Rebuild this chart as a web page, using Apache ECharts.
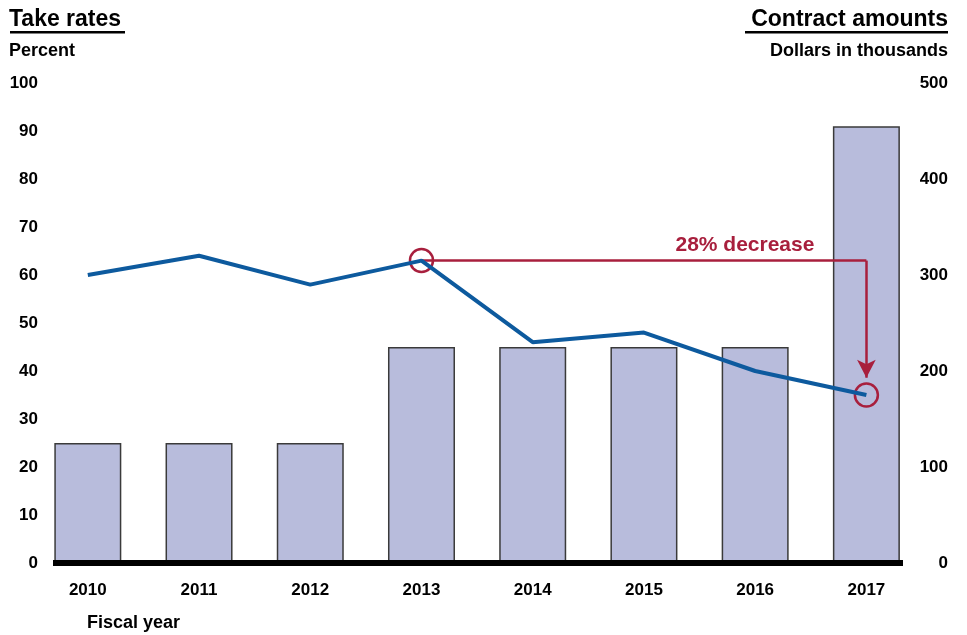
<!DOCTYPE html>
<html>
<head>
<meta charset="utf-8">
<script src="https://cdn.jsdelivr.net/npm/echarts@6/dist/echarts.min.js"></script>
<style>
html,body{margin:0;padding:0;background:#fff;}
#chart{width:967px;height:635px;}
</style>
</head>
<body>
<div id="chart"></div>
<script>
const years = ['2010','2011','2012','2013','2014','2015','2016','2017'];
const contractAmounts = [125, 125, 125, 225, 225, 225, 225, 455];
const takeRates = [60, 64, 58, 63, 46, 48, 40, 35];
const leftTicks = [0,10,20,30,40,50,60,70,80,90,100];
const rightTicks = [0,100,200,300,400,500];
const annoStartYear = '2013';
const annoEndYear = '2017';
const annoLabel = '28% decrease';

const RED = '#a81f3d';
const BLUE = '#0d5a9e';
const FONT = '"Liberation Sans", Arial, sans-serif';

const startVal = takeRates[years.indexOf(annoStartYear)];
const endVal = takeRates[years.indexOf(annoEndYear)];
const arrowGap = 3.6;

const chart = echarts.init(document.getElementById('chart'), null, {renderer:'canvas'});
const titleStyle = (size) => ({fontFamily: FONT, fontSize: size, fontWeight: 'bold', color: '#000'});
const option = {
  backgroundColor: '#fff',
  animation: false,
  textStyle: {fontFamily: FONT},
  title: [
    {text: 'Take rates', left: 9, top: 8, padding: 0, textStyle: titleStyle(23)},
    {text: 'Percent', left: 9, top: 42, padding: 0, textStyle: titleStyle(18)},
    {text: 'Contract amounts', right: 19, top: 8, padding: 0, textStyle: titleStyle(23)},
    {text: 'Dollars in thousands', right: 19, top: 42, padding: 0, textStyle: titleStyle(18)},
    {text: 'Fiscal year', left: 87, top: 614, padding: 0, textStyle: titleStyle(18)}
  ],
  graphic: [
    {type: 'rect', left: 10, top: 31, shape: {width: 115, height: 2.5}, style: {fill: '#000'}},
    {type: 'rect', right: 19, top: 31, shape: {width: 203, height: 2.5}, style: {fill: '#000'}}
  ],
  grid: [
    {left: 32.2, right: 45, top: 83, bottom: 72},
    {left: 53, right: 64, top: 83, bottom: 72}
  ],
  xAxis: [
    {type: 'category', gridIndex: 0, data: years, boundaryGap: true,
     axisLine: {show: false}, axisTick: {show: false},
     axisLabel: {fontFamily: FONT, fontSize: 17, fontWeight: 'bold', color: '#000', margin: 19}},
    {type: 'category', gridIndex: 1, data: years,
     axisLine: {show: true, lineStyle: {color: '#000', width: 6, cap: 'butt'}}, axisTick: {show: false},
     axisLabel: {show: false}, z: 10}
  ],
  yAxis: [
    {type: 'value', gridIndex: 0, min: 0, max: 100, interval: 10, show: false, splitLine: {show: false}},
    {type: 'value', gridIndex: 0, position: 'right', min: 0, max: 500, interval: 100, show: false, splitLine: {show: false}},
    {type: 'value', gridIndex: 1, min: leftTicks[0], max: leftTicks[leftTicks.length-1], interval: leftTicks[1]-leftTicks[0],
     axisLine: {show: false}, axisTick: {show: false}, splitLine: {show: false},
     axisLabel: {fontFamily: FONT, fontSize: 17, fontWeight: 'bold', color: '#000', margin: 15}},
    {type: 'value', gridIndex: 1, position: 'right', min: rightTicks[0], max: rightTicks[rightTicks.length-1], interval: rightTicks[1]-rightTicks[0],
     axisLine: {show: false}, axisTick: {show: false}, splitLine: {show: false},
     axisLabel: {fontFamily: FONT, fontSize: 17, fontWeight: 'bold', color: '#000', margin: 45, align: 'right'}}
  ],
  series: [
    {
      name: 'Contract amounts', type: 'bar', xAxisIndex: 0, yAxisIndex: 1,
      data: contractAmounts, barWidth: 67,
      itemStyle: {color: '#b8bcdc', borderColor: '#3a3a3a', borderWidth: 1.5},
      z: 2
    },
    {
      name: 'Take rates', type: 'line', xAxisIndex: 0, yAxisIndex: 0,
      data: takeRates, symbol: 'none',
      lineStyle: {color: BLUE, width: 4}, z: 5,
      markLine: {
        silent: true,
        symbol: ['none', 'none'],
        lineStyle: {color: RED, width: 2.5, type: 'solid'},
        data: [
          [
            {coord: [annoStartYear, startVal], symbol: 'none',
             label: {show: true, formatter: annoLabel, position: 'insideEndTop', distance: [52, 5],
                     color: RED, fontFamily: FONT, fontSize: 21, fontWeight: 'bold'}},
            {coord: [annoEndYear, startVal], symbol: 'none'}
          ],
          [
            {coord: [annoEndYear, startVal], symbol: 'none', label: {show: false}},
            {coord: [annoEndYear, endVal + arrowGap], symbol: 'arrow', symbolSize: [14, 18]}
          ]
        ]
      },
      markPoint: {
        silent: true,
        symbol: 'circle', symbolSize: 23,
        label: {show: false},
        itemStyle: {color: 'rgba(0,0,0,0)', borderColor: RED, borderWidth: 2.5},
        data: [
          {coord: [annoStartYear, startVal]},
          {coord: [annoEndYear, endVal]}
        ]
      }
    }
  ]
};
chart.setOption(option);
</script>
</body>
</html>
